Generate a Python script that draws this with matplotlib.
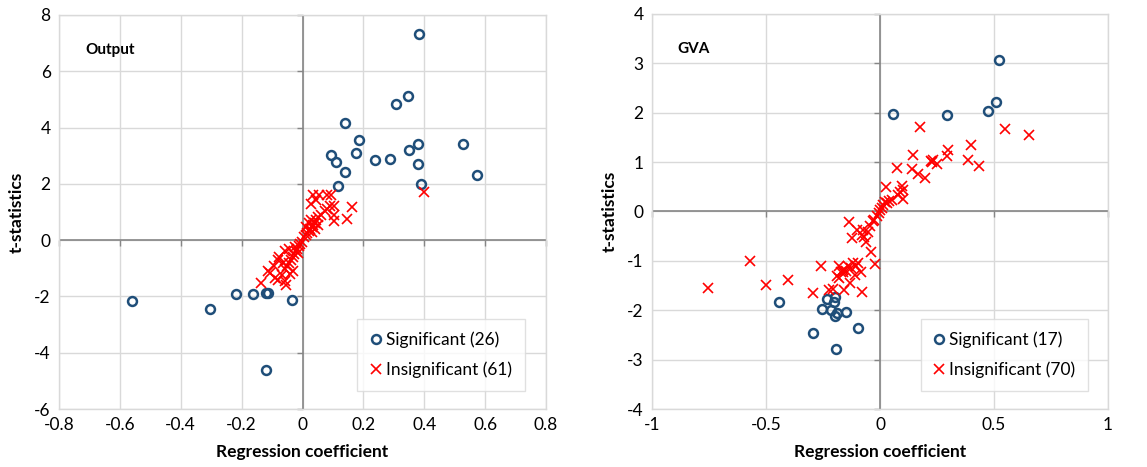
import matplotlib
matplotlib.use("Agg")
import matplotlib.pyplot as plt

plt.rcParams['font.family'] = ['Lato', 'DejaVu Sans']

# ---------------- Output panel ----------------
out_sig_x = [0.384, 0.346, 0.307, 0.141, 0.184, 0.379, 0.528, 0.350, 0.175, 0.093,
             0.110, 0.239, 0.289, 0.378, 0.141, 0.574, 0.118, 0.388,
             -0.559, -0.304, -0.217, -0.162, -0.121, -0.113, -0.035, -0.119]
out_sig_y = [7.34, 5.12, 4.82, 4.17, 3.55, 3.41, 3.41, 3.22, 3.08, 3.01,
             2.76, 2.85, 2.90, 2.71, 2.43, 2.31, 1.92, 2.00,
             -2.18, -2.45, -1.93, -1.92, -1.88, -1.88, -2.11, -4.63]

out_ins_x = [0.399, 0.164, 0.147, 0.102, 0.104, 0.104, 0.094, 0.080, 0.054, 0.035,
             0.028, 0.043, 0.080, 0.090, 0.073, 0.060, 0.052, 0.045, 0.040, 0.035,
             0.030, 0.025, 0.020, 0.015, 0.010, 0.005, 0.022, 0.030, 0.040, 0.012,
             0.050, 0.028,
             -0.002, -0.008, -0.012, -0.018, -0.022, -0.028, -0.032, -0.038, -0.045,
             -0.050, -0.058, -0.040, -0.030, -0.054, -0.057, -0.068, -0.079, -0.090,
             -0.108, -0.114, -0.136, -0.095, -0.082, -0.076, -0.057, -0.015, -0.025,
             -0.065, -0.045]
out_ins_y = [1.72, 1.18, 0.76, 0.67, 0.88, 1.21, 1.62, 1.62, 1.60, 1.60,
             1.30, 1.42, 1.12, 1.22, 1.02, 0.90, 0.82, 0.72, 0.62, 0.55,
             0.48, 0.40, 0.33, 0.25, 0.18, 0.10, 0.60, 0.30, 0.40, 0.45,
             0.55, 0.70,
             -0.05, -0.12, -0.22, -0.30, -0.40, -0.50, -0.60, -0.70, -0.80,
             -0.92, -1.02, -1.22, -1.10, -1.61, -1.46, -1.25, -1.40, -1.34,
             -1.16, -1.08, -1.51, -0.92, -0.70, -0.60, -0.40, -0.45, -0.25,
             -0.80, -0.30]

# ---------------- GVA panel ----------------
gva_sig_x = [0.520, 0.508, 0.472, 0.055, 0.295, -0.445, -0.253, -0.234, -0.197,
             -0.200, -0.213, -0.188, -0.197, -0.149, -0.292, -0.098, -0.193]
gva_sig_y = [3.06, 2.22, 2.03, 1.98, 1.95, -1.83, -1.97, -1.78, -1.74,
             -1.83, -1.99, -2.05, -2.11, -2.03, -2.47, -2.36, -2.78]

gva_ins_x = [-0.756, -0.571, -0.502, -0.403, -0.295, -0.258, -0.222, -0.207, -0.080, -0.022,
             -0.039, -0.134, -0.124, -0.102, -0.080, -0.070, -0.061, -0.073, -0.051, -0.044,
             -0.032, -0.026, -0.015, -0.006,
             -0.182, -0.172, -0.161, -0.149, -0.139, -0.127, -0.117, -0.105, -0.095, -0.085,
             -0.109, -0.131, -0.158, -0.182, -0.190, -0.164,
             0.026, 0.015, 0.022, 0.032, 0.041, 0.051, 0.007, 0.073, 0.088, 0.095,
             0.099, 0.102, 0.139, 0.143, 0.168, 0.175, 0.197, 0.222, 0.234, 0.248,
             0.292, 0.299, 0.384, 0.399, 0.435, 0.547, 0.653, 0.228, 0.000, 0.080]
gva_ins_y = [-1.54, -1.00, -1.49, -1.39, -1.66, -1.11, -1.59, -1.56, -1.64, -1.06,
             -0.82, -0.22, -0.53, -0.37, -0.47, -0.51, -0.61, -0.37, -0.41, -0.30,
             -0.20, -0.17, -0.09, -0.03,
             -1.11, -1.22, -1.18, -1.20, -1.11, -1.14, -1.05, -1.11, -1.05, -1.22,
             -1.28, -1.45, -1.59, -1.35, -1.30, -1.22,
             0.49, 0.14, 0.20, 0.17, 0.22, 0.24, 0.07, 0.89, 0.39, 0.51,
             0.44, 0.26, 0.86, 1.15, 0.76, 1.71, 0.68, 1.03, 1.05, 0.96,
             1.13, 1.24, 1.04, 1.34, 0.93, 1.67, 1.55, 1.00, 0.03, 0.34]

out_xticks = [-0.8, -0.6, -0.4, -0.2, 0, 0.2, 0.4, 0.6, 0.8]
out_xlabels = ['-0.8', '-0.6', '-0.4', '-0.2', '0', '0.2', '0.4', '0.6', '0.8']
out_yticks = [-6, -4, -2, 0, 2, 4, 6, 8]
gva_xticks = [-1, -0.5, 0, 0.5, 1]
gva_xlabels = ['-1', '-0.5', '0', '0.5', '1']
gva_yticks = [-4, -3, -2, -1, 0, 1, 2, 3, 4]

BLUE = '#1f4e79'
RED = '#ff0000'
GRID = '#d9d9d9'
ZERO = '#868686'

fig = plt.figure(figsize=(11.47, 4.67), dpi=100)
ax1 = fig.add_axes([59/1147, 1-409/467, 487/1147, 394/467])
ax2 = fig.add_axes([652/1147, 1-409/467, 456/1147, 395/467])


def style(ax, sx, sy, ix, iy, xticks, xlabels, yticks, title, nsig, nins, ylabel_pad):
    ax.set_xlim(xticks[0], xticks[-1])
    ax.set_ylim(yticks[0], yticks[-1])
    ax.set_xticks(xticks)
    ax.set_xticklabels(xlabels)
    ax.set_yticks(yticks)
    ax.set_yticklabels([str(v) for v in yticks])
    ax.grid(True, color=GRID, linewidth=1.0)
    ax.set_axisbelow(True)
    for sp in ax.spines.values():
        sp.set_color(GRID)
        sp.set_linewidth(1.0)
    ax.tick_params(length=0, labelsize=12.5, pad=6)
    ax.axhline(0, color=ZERO, linewidth=1.2, zorder=1)
    ax.axvline(0, color=ZERO, linewidth=1.2, zorder=1)
    # tick marks on the zero axes
    ax.plot(xticks, [0]*len(xticks), linestyle='none', marker=3, markersize=4,
            color=ZERO, markeredgewidth=1.0, zorder=1, clip_on=False)
    ax.plot([0]*len(yticks), yticks, linestyle='none', marker=0, markersize=4,
            color=ZERO, markeredgewidth=1.0, zorder=1, clip_on=False)
    ax.plot(sx, sy, linestyle='none', marker='o', markersize=6.4,
            markerfacecolor='none', markeredgecolor=BLUE, markeredgewidth=1.8,
            label=f'Significant ({nsig})', zorder=3)
    ax.plot(ix, iy, linestyle='none', marker='x', markersize=6.5,
            color=RED, markeredgewidth=1.2,
            label=f'Insignificant ({nins})', zorder=3)
    ax.set_xlabel('Regression coefficient', fontsize=12.5, fontweight='bold', labelpad=8)
    ax.set_ylabel('t-statistics', fontsize=12.5, fontweight='bold', labelpad=ylabel_pad)
    ax.text(0.055, 0.911, title, transform=ax.transAxes, fontsize=11,
            fontweight='bold', va='center', ha='left')
    leg = ax.legend(loc='lower right', bbox_to_anchor=(0.957, 0.046), fontsize=12.5,
                    frameon=True, fancybox=False, edgecolor=GRID, handlelength=0.6,
                    handletextpad=0.3, borderpad=0.75, labelspacing=0.75,
                    borderaxespad=0)
    leg.get_frame().set_linewidth(1.0)


style(ax1, out_sig_x, out_sig_y, out_ins_x, out_ins_y, out_xticks, out_xlabels,
      out_yticks, 'Output', 26, 61, 7)
style(ax2, gva_sig_x, gva_sig_y, gva_ins_x, gva_ins_y, gva_xticks, gva_xlabels,
      gva_yticks, 'GVA', 17, 70, 7)

fig.savefig('out.png', dpi=100)
